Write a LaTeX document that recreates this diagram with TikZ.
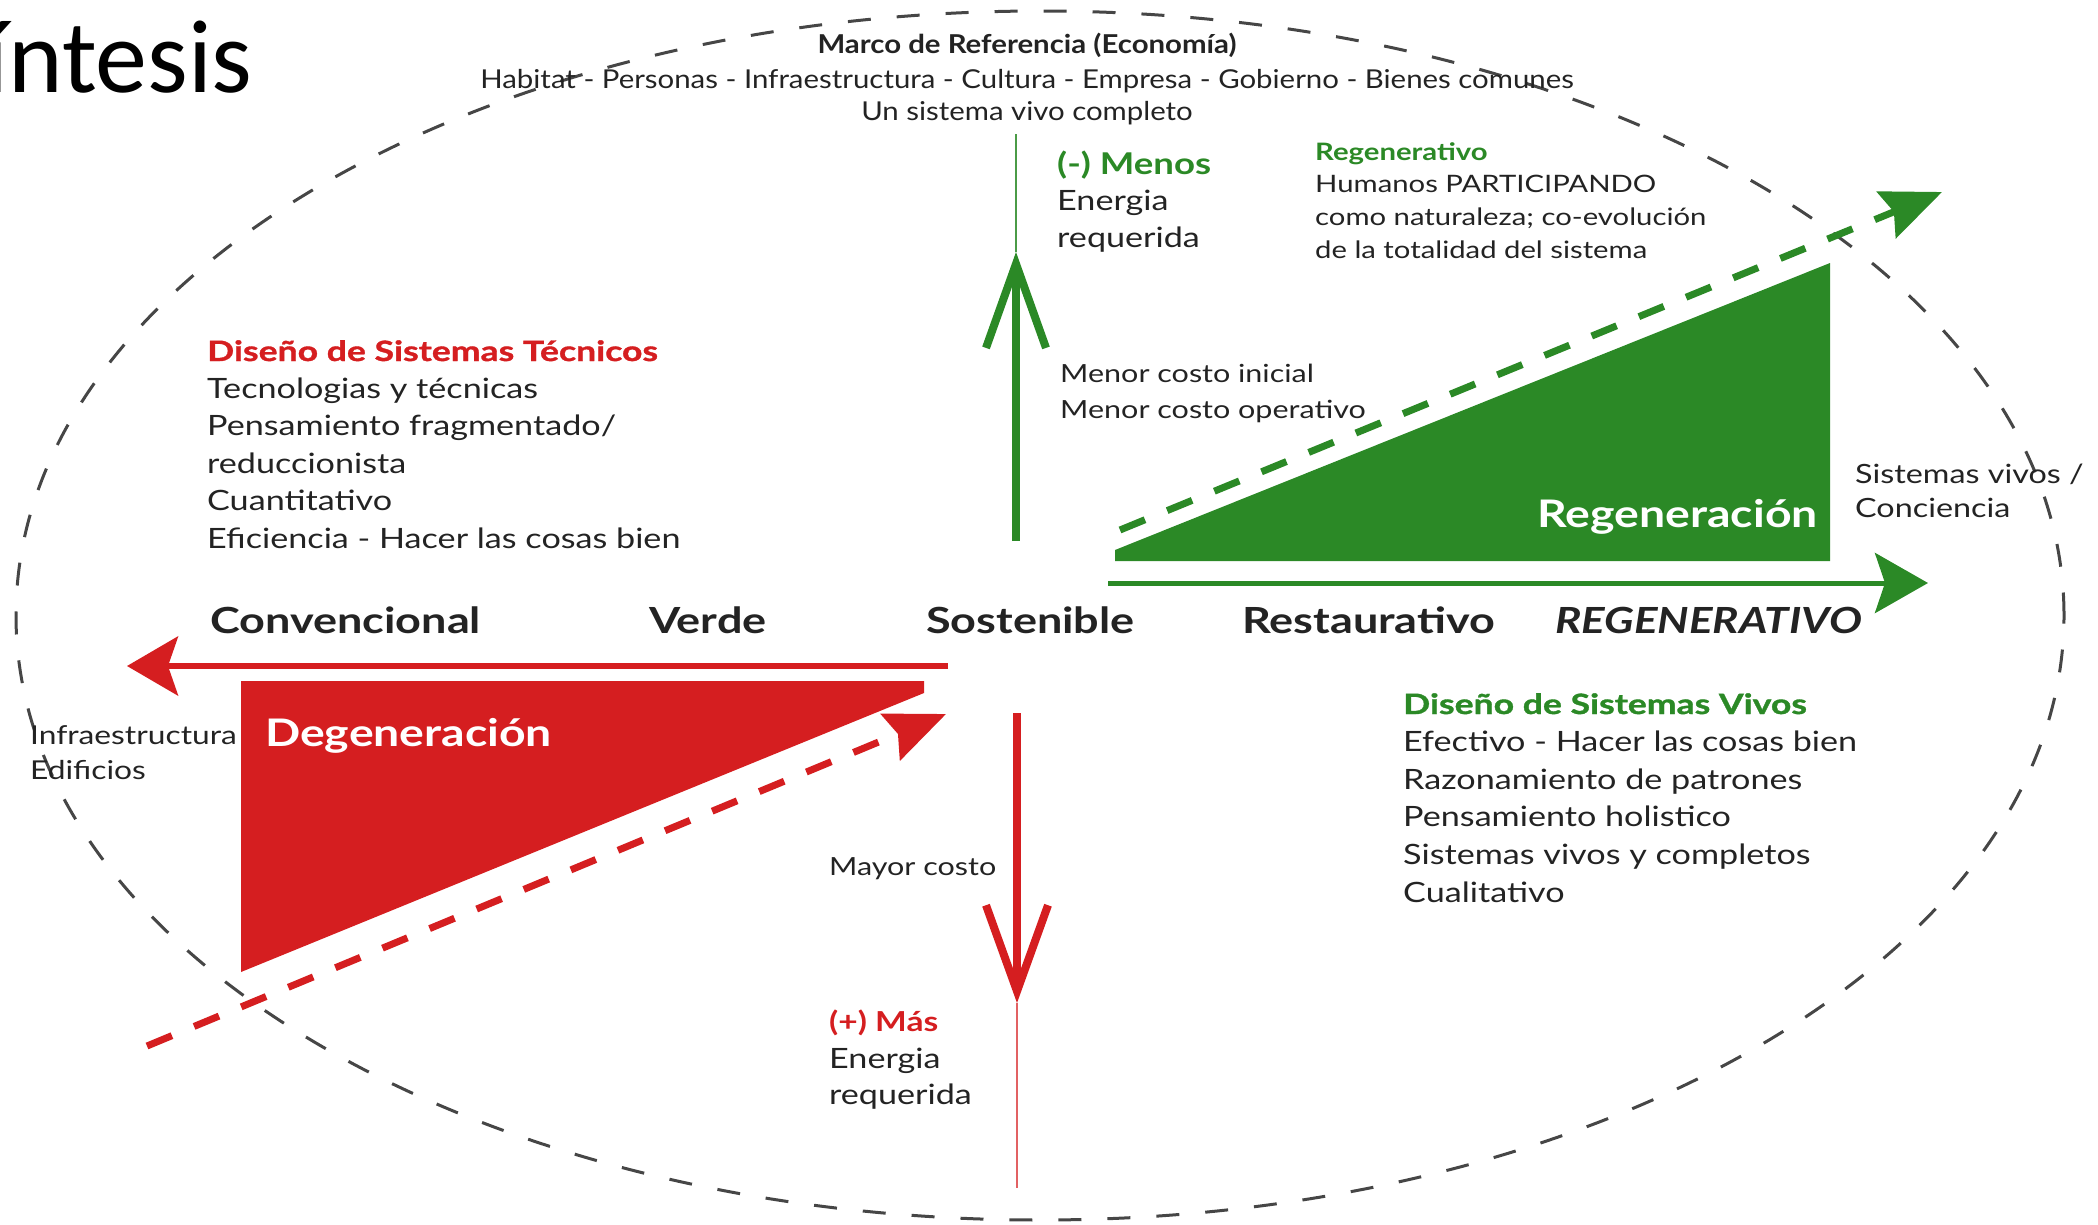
\documentclass[tikz,border=0pt]{standalone}
\usepackage{fontspec}
\setmainfont{Lato}[FakeStretch=1.22]
\newfontfamily\hbf{Lato}[FakeStretch=1.27, BoldFeatures={FakeBold=1.2}]
\newfontfamily\axf{Lato}[FakeStretch=1.25]
\newfontfamily\topf{Lato}[FakeStretch=1.13]
\newfontfamily\titlefont{Carlito}
\usetikzlibrary{arrows.meta}
\definecolor{rgreen}{RGB}{43,137,38}
\definecolor{rred}{RGB}{213,30,32}
\definecolor{txt}{RGB}{35,35,35}
\definecolor{ellc}{RGB}{70,70,70}
\begin{document}
\begin{tikzpicture}[x=1pt,y=-1pt,
  lbl/.style={inner sep=0pt, anchor=base west, text=txt},
  body/.style={lbl, font=\fontsize{28}{34}\selectfont},
  small/.style={lbl, font=\fontsize{25}{30}\selectfont},
  top/.style={inner sep=0pt, anchor=base, text=txt, font=\topf\fontsize{26}{32}\selectfont},
  axis/.style={lbl, font=\axf\bfseries\fontsize{36}{42}\selectfont},
  headr/.style={lbl, text=rred, font=\hbf\bfseries\fontsize{28}{34}\selectfont},
  headg/.style={lbl, text=rgreen, font=\hbf\bfseries\fontsize{28}{34}\selectfont},
  bigw/.style={inner sep=0pt, text=white, font=\bfseries\fontsize{38}{44}\selectfont},
  thickarrow/.style={line width=8pt},
  dashedarrow/.style={line width=7pt, dash pattern=on 27pt off 24pt},
]
\useasboundingbox (0,0) rectangle (2098,1224);

% frame ellipse
\draw[ellc, line width=3pt, dash pattern=on 23pt off 26pt] (1040,615.5) ellipse [x radius=1024pt, y radius=604.5pt];

% title (cut at the left edge, as in the slide)
\node[inner sep=0pt, anchor=base east, text=black, font=\titlefont\fontsize{104}{108}\selectfont] (titulo) at (253,92) {Síntesis};

% top text
\node[top, font=\topf\bfseries\fontsize{26}{32}\selectfont] (marco) at (1027,53) {Marco de Referencia (Economía)};
\node[top] (habitat) at (1027,88) {Habitat - Personas - Infraestructura - Cultura - Empresa - Gobierno - Bienes comunes};
\node[top] (unsis) at (1027,120) {Un sistema vivo completo};

% triangles
\fill[rgreen] (1115,550) -- (1830,263) -- (1830,561) -- (1115,561) -- cycle;
\fill[rred] (241,681) -- (924,681) -- (924,693) -- (241,972) -- cycle;
\node[bigw, anchor=base east] (regen) at (1818,527) {Regeneración};
\node[bigw, anchor=base west] (degen) at (265,746) {Degeneración};

% green vertical arrow (up)
\coordinate (gbot) at (1016,541);
\coordinate (gtip) at (1016,252);
\coordinate (gtop) at (1016,134);
\draw[rgreen, thickarrow, -{Straight Barb[length=84pt,width=60pt,line width=8pt]}] (gbot) -- (gtip);
\draw[rgreen!85!white, line width=2pt] (gtip) -- (gtop);

% red vertical arrow (down)
\coordinate (rtopv) at (1017,713);
\coordinate (rtip) at (1017,1003);
\coordinate (rend) at (1017,1188);
\draw[rred, thickarrow, -{Straight Barb[length=86pt,width=62pt,line width=8pt]}] (rtopv) -- (rtip);
\draw[rred!70!white, line width=2pt] (rtip) -- (rend);

% horizontal arrows
\coordinate (ghs) at (1108,583);
\coordinate (ghe) at (1928,583);
\draw[rgreen, line width=5pt, -{Stealth[length=53pt,width=60pt,inset=10pt]}] (ghs) -- (ghe);
\coordinate (rhs) at (948,666);
\coordinate (rhe) at (127,666);
\draw[rred, line width=6pt, -{Stealth[length=51pt,width=59pt,inset=10pt]}] (rhs) -- (rhe);

% dashed arrows
\coordinate (gds) at (1120,530);
\coordinate (gde) at (1942,192);
\draw[rgreen, dashedarrow, -{Stealth[length=60pt,width=50pt,inset=8pt]}] (gds) -- (gde);
\coordinate (rds) at (147,1046);
\coordinate (rde) at (946,714);
\draw[rred, dashedarrow, -{Stealth[length=60pt,width=50pt,inset=8pt]}] (rds) -- (rde);

% axis labels
\node[axis] (conv) at (210,633) {Convencional};
\node[axis] (verde) at (649,633) {Verde};
\node[axis] (sost) at (926,633) {Sostenible};
\node[axis] (rest) at (1242,633) {Restaurativo};
\node[axis, font=\bfseries\itshape\fontsize{36}{42}\selectfont] (regenax) at (1555,633) {REGENERATIVO};

% Diseno de sistemas tecnicos
\node[headr] (dst) at (207,361) {Diseño de Sistemas Técnicos};
\node[body] (dst1) at (207,398.4) {Tecnologias y técnicas};
\node[body] (dst2) at (207,435.8) {Pensamiento fragmentado/};
\node[body] (dst3) at (207,473.2) {reduccionista};
\node[body] (dst4) at (207,510.6) {Cuantitativo};
\node[body] (dst5) at (207,548) {Eficiencia - Hacer las cosas bien};

% Diseno de sistemas vivos
\node[headg] (dsv) at (1403,714) {Diseño de Sistemas Vivos};
\node[body] (dsv1) at (1403,751.6) {Efectivo - Hacer las cosas bien};
\node[body] (dsv2) at (1403,789.2) {Razonamiento de patrones};
\node[body] (dsv3) at (1403,826.8) {Pensamiento holistico};
\node[body] (dsv4) at (1403,864.4) {Sistemas vivos y completos};
\node[body] (dsv5) at (1403,902) {Cualitativo};

% menos energia
\node[headg, font=\bfseries\fontsize{30}{36}\selectfont] (menos) at (1057,174) {(-) Menos};
\node[body] (menos1) at (1057,210.5) {Energia};
\node[body] (menos2) at (1057,247) {requerida};

% regenerativo
\node[headg, font=\bfseries\fontsize{24}{30}\selectfont] (regtit) at (1315,160) {Regenerativo};
\node[lbl, font=\fontsize{24}{30}\selectfont] (reg1) at (1315,192.5) {Humanos PARTICIPANDO};
\node[lbl, font=\fontsize{24}{30}\selectfont] (reg2) at (1315,225.5) {como naturaleza; co-evolución};
\node[lbl, font=\fontsize{24}{30}\selectfont] (reg3) at (1315,258.5) {de la totalidad del sistema};

% menor costo
\node[small] (mc1) at (1060,382) {Menor costo inicial};
\node[small] (mc2) at (1060,418) {Menor costo operativo};

% mayor costo / mas energia
\node[small] (mayor) at (829,875) {Mayor costo};
\node[headr, font=\bfseries\fontsize{27.5}{34}\selectfont] (mas) at (829,1031) {(+) Más};
\node[body] (mas1) at (829,1068) {Energia};
\node[body] (mas2) at (829,1104) {requerida};

% side labels
\node[lbl, font=\fontsize{26}{30}\selectfont] (infra) at (30,744) {Infraestructura};
\node[lbl, font=\fontsize{26}{30}\selectfont] (edif) at (30,779) {Edificios};
\node[lbl, font=\fontsize{26.5}{32}\selectfont] (sv1) at (1855,483) {Sistemas vivos /};
\node[lbl, font=\fontsize{26.5}{32}\selectfont] (sv2) at (1855,517) {Conciencia};
\end{tikzpicture}
\end{document}
